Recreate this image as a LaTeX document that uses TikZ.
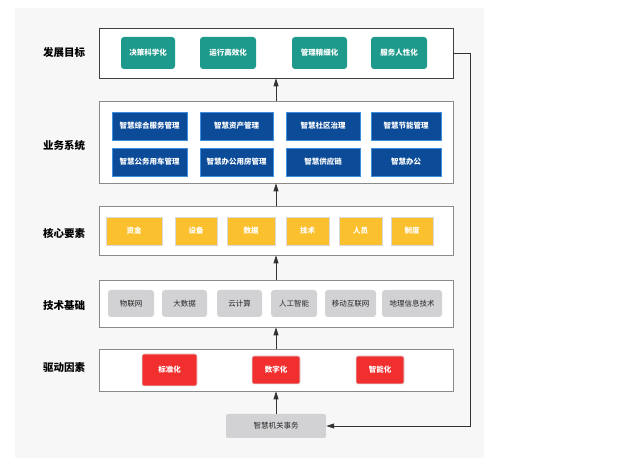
\documentclass[tikz,border=0pt]{standalone}
\usepackage{fontspec}
\setmainfont{Noto Sans CJK SC}
\newfontfamily\cjkb{Noto Sans CJK SC Bold}
\usetikzlibrary{arrows.meta}
\definecolor{panel}{HTML}{F7F7F8}
\definecolor{teal}{HTML}{1E9A8C}
\definecolor{bizfill}{HTML}{0B4B98}
\definecolor{bizline}{HTML}{3D8FE0}
\definecolor{corefill}{HTML}{FBC02D}
\definecolor{techfill}{HTML}{D2D2D4}
\definecolor{drvfill}{HTML}{F22F2F}
\definecolor{layline}{HTML}{8A8A8A}
\definecolor{arr}{HTML}{333333}
\tikzset{
  layer/.style={draw=layline, line width=0.8pt, fill=white, minimum width=354pt, inner sep=0pt},
  lab/.style={font=\fontsize{10.5}{12}\selectfont\bfseries, text=black},
  item/.style={inner sep=0pt, font=\fontsize{7.5}{9}\selectfont\bfseries, text=white},
  goal/.style={item, fill=teal, rounded corners=3pt},
  biz/.style={item, fill=bizfill, draw=bizline, line width=0.8pt, minimum height=28pt},
  core/.style={item, fill=corefill, draw=black!15, line width=0.6pt, minimum height=28pt},
  tech/.style={item, fill=techfill, rounded corners=3pt, minimum height=27pt, text=black!85, font=\fontsize{7.5}{9}\selectfont},
  drv/.style={item, fill=drvfill, draw=black!12, line width=0.6pt, rounded corners=2pt},
  flow/.style={draw=arr, line width=0.9pt, -{Triangle[length=8pt,width=5pt]}},
}
\begin{document}
\begin{tikzpicture}[x=1pt,y=-1pt]
\useasboundingbox (0,0) rectangle (633,473);
\fill[panel] (15,8) rectangle (484,458);
% layers
\node[layer, draw=black!75, minimum height=50pt] (L1) at (276,53) {};
\node[layer, minimum height=82pt] (L2) at (276,142) {};
\node[layer, minimum height=49pt] (L3) at (276,230.5) {};
\node[layer, minimum height=47pt] (L4) at (276,303.5) {};
\node[layer, minimum height=42pt] (L5) at (276,370) {};
% labels
\node[lab] (t1) at (64,53) {发展目标};
\node[lab] (t2) at (64,146) {业务系统};
\node[lab] (t3) at (64,233) {核心要素};
\node[lab] (t4) at (64,306) {技术基础};
\node[lab] (t5) at (64,368) {驱动因素};
% goals
\node[goal, minimum width=54pt, minimum height=32pt] (g1) at (148,53) {决策科学化};
\node[goal, minimum width=56pt, minimum height=32pt] (g2) at (228,53) {运行高效化};
\node[goal, minimum width=55pt, minimum height=32pt] (g3) at (319.5,53) {管理精细化};
\node[goal, minimum width=56pt, minimum height=32pt] (g4) at (399,53) {服务人性化};
% business
\node[biz, minimum width=75pt] (b1) at (149.5,126) {智慧综合服务管理};
\node[biz, minimum width=73pt] (b2) at (236.5,126) {智慧资产管理};
\node[biz, minimum width=74pt] (b3) at (323,126) {智慧社区治理};
\node[biz, minimum width=70pt] (b4) at (406,126) {智慧节能管理};
\node[biz, minimum width=75pt] (b5) at (149.5,162) {智慧公务用车管理};
\node[biz, minimum width=73pt] (b6) at (236.5,162) {智慧办公用房管理};
\node[biz, minimum width=74pt] (b7) at (323,162) {智慧供应链};
\node[biz, minimum width=70pt] (b8) at (406,162) {智慧办公};
% core
\node[core, minimum width=56pt] (c1) at (134,231) {资金};
\node[core, minimum width=42pt] (c2) at (196,231) {设备};
\node[core, minimum width=48pt] (c3) at (251,231) {数据};
\node[core, minimum width=43pt] (c4) at (307.5,231) {技术};
\node[core, minimum width=43pt] (c5) at (360.5,231) {人员};
\node[core, minimum width=42pt] (c6) at (412,231) {制度};
% tech
\node[tech, minimum width=46pt] (k1) at (131,303.5) {物联网};
\node[tech, minimum width=45pt] (k2) at (184.5,303.5) {大数据};
\node[tech, minimum width=45pt] (k3) at (239.5,303.5) {云计算};
\node[tech, minimum width=46pt] (k4) at (294,303.5) {人工智能};
\node[tech, minimum width=51pt] (k5) at (350.5,303.5) {移动互联网};
\node[tech, minimum width=60pt] (k6) at (412,303.5) {地理信息技术};
% drivers
\node[drv, minimum width=55pt, minimum height=32pt] (d1) at (169.5,370) {标准化};
\node[drv, minimum width=48pt, minimum height=28pt] (d2) at (276,370) {数字化};
\node[drv, minimum width=48pt, minimum height=28pt] (d3) at (380,370) {智能化};
% base
\node[tech, minimum width=100pt, minimum height=24pt, rounded corners=2pt] (base) at (276,426) {智慧机关事务};
% arrows
\draw[flow] (base.north) -- (L5.south);
\draw[flow] (L5.north) -- (L4.south);
\draw[flow] (L4.north) -- (L3.south);
\draw[flow] (L3.north) -- (L2.south);
\draw[flow] (L2.north) -- (L1.south);
\coordinate (r1) at (470,53);
\coordinate (r2) at (470,426);
\draw[flow] (L1.east) -- (r1) -- (r2) -- (base.east);
\end{tikzpicture}
\end{document}
